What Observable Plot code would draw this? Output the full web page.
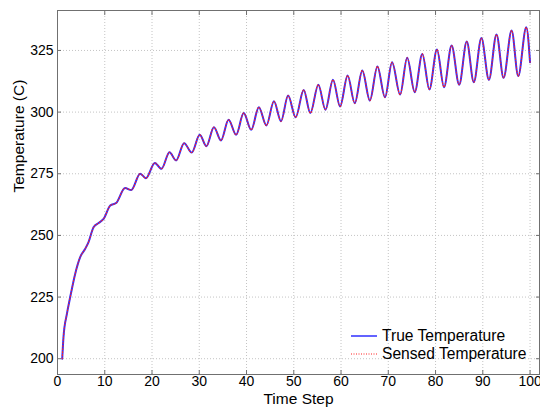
<!DOCTYPE html>
<html>
<head>
<meta charset="utf-8">
<script src="https://cdn.jsdelivr.net/npm/d3@7"></script>
<script src="https://cdn.jsdelivr.net/npm/@observablehq/plot@0.6"></script>
<style>
  html, body { margin: 0; padding: 0; background: #fff; }
  #wrap { position: relative; width: 540px; height: 412px; font-family: "Liberation Sans", Arial, Helvetica, sans-serif; }
  #legend { position: absolute; left: 350px; top: 327px; font-size: 15.6px; color: #000; }
  .row { display: flex; align-items: center; height: 18px; }
  .row svg { margin-right: 4px; }
</style>
</head>
<body>
<div id="wrap"></div>
<script>
// Values
const timeSteps = [1, 1.27, 1.99, 2.69, 3.75, 4.8, 5.87, 6.57, 7.63, 8.69,
  9.75, 11.17, 12.4, 14.3, 15.6, 17.5, 18.7, 20.6, 22.0, 23.7,
  25.1, 26.8, 28.4, 30.1, 31.5, 33.1, 34.6, 36.2, 37.8, 39.4,
  41.0, 42.6, 44.2, 45.8, 47.3, 48.8, 50.4, 52.1, 53.5, 55.2,
  56.7, 58.3, 59.8, 61.4, 62.9, 64.5, 66.1, 67.7, 69.3, 70.8,
  72.5, 74.0, 75.6, 77.2, 78.7, 80.3, 81.8, 83.4, 85.0, 86.6,
  88.1, 89.7, 91.3, 92.9, 94.4, 96.1, 97.5, 99.2, 100];
const trueTemperature = [200, 208.8, 218.2, 225, 234.5, 241.2, 244.6, 247.3, 253.3, 255,
  256.7, 262.1, 263.1, 269.2, 268.4, 275, 273.2, 279.4, 277, 283.7,
  280.4, 287.4, 283.6, 290.8, 286.2, 293.9, 288.5, 296.9, 290.8, 299.6,
  292.8, 302, 294.6, 304.4, 296.3, 306.7, 297.9, 309, 299.6, 311.1,
  301, 313.1, 302.3, 314.8, 303.6, 316.9, 304.7, 318.5, 306, 320.2,
  307.1, 322, 308.1, 323.6, 309.2, 325.4, 310.1, 327, 311.1, 328.6,
  312.1, 330, 313.1, 331.5, 313.9, 333.1, 314.6, 334.4, 320.2];
// Sensed values are visually indistinguishable from the true ones in the picture
const sensedTemperature = [200, 208.8, 218.2, 225, 234.5, 241.2, 244.6, 247.3, 253.3, 255,
  256.7, 262.1, 263.1, 269.2, 268.4, 275, 273.2, 279.4, 277, 283.7,
  280.4, 287.4, 283.6, 290.8, 286.2, 293.9, 288.5, 296.9, 290.8, 299.6,
  292.8, 302, 294.6, 304.4, 296.3, 306.7, 297.9, 309, 299.6, 311.1,
  301, 313.1, 302.3, 314.8, 303.6, 316.9, 304.7, 318.5, 306, 320.2,
  307.1, 322, 308.1, 323.6, 309.2, 325.4, 310.1, 327, 311.1, 328.6,
  312.1, 330, 313.1, 331.5, 313.9, 333.1, 314.6, 334.4, 320.2];
const xTicks = [0, 10, 20, 30, 40, 50, 60, 70, 80, 90, 100];
const yTicks = [200, 225, 250, 275, 300, 325];
const seriesNames = ["True Temperature", "Sensed Temperature"];
const xLabel = "Time Step";
const yLabel = "Temperature (C)";

const data = timeSteps.map((t, i) => ({t, trueT: trueTemperature[i], sensedT: sensedTemperature[i]}));
const font = '"Liberation Sans", Arial, Helvetica, sans-serif';
const axisColor = "#707070";

const chart = Plot.plot({
  width: 540,
  height: 412,
  marginLeft: 57,
  marginRight: 1,
  marginTop: 10,
  marginBottom: 38,
  style: {fontFamily: font, fontSize: "14px", color: "#000", background: "#fff"},
  x: {domain: [0, 102]},
  y: {domain: [193.6, 341.2]},
  marks: [
    Plot.gridX(xTicks, {stroke: "#c4c4c4", strokeOpacity: 1, strokeDasharray: "1,2"}),
    Plot.gridY(yTicks, {stroke: "#c4c4c4", strokeOpacity: 1, strokeDasharray: "1,2"}),
    Plot.line(data, {x: "t", y: "trueT", stroke: "#2f2fff", strokeWidth: 2, curve: "monotone-x"}),
    Plot.line(data, {x: "t", y: "sensedT", stroke: "#ff2020", strokeWidth: 1.1, strokeDasharray: "1,2", curve: "monotone-x"}),
    Plot.frame({stroke: axisColor}),
    Plot.axisX(xTicks, {anchor: "bottom", tickSize: -4, tickPadding: 6, stroke: axisColor, fill: "#000", label: null}),
    Plot.axisX(xTicks, {anchor: "top", tickSize: -4, tickFormat: () => "", stroke: axisColor, label: null}),
    Plot.axisY(yTicks, {anchor: "left", tickSize: -4, tickPadding: 8, stroke: axisColor, fill: "#000", label: null}),
    Plot.axisY(yTicks, {anchor: "right", tickSize: -4, tickFormat: () => "", stroke: axisColor, label: null}),
    Plot.text([xLabel], {frameAnchor: "bottom", dy: 29, fontSize: 15.5, fill: "#000"}),
    Plot.text([yLabel], {frameAnchor: "left", dx: -38, rotate: -90, fontSize: 15.5, fill: "#000"})
  ]
});

const wrap = document.getElementById("wrap");
wrap.appendChild(chart);

const legend = document.createElement("div");
legend.id = "legend";
legend.innerHTML = `
  <div class="row"><svg width="28" height="4"><line x1="1" x2="27" y1="2" y2="2" stroke="#2f2fff" stroke-width="1.5"/></svg><span>${seriesNames[0]}</span></div>
  <div class="row"><svg width="28" height="4"><line x1="1" x2="27" y1="2" y2="2" stroke="#ff2020" stroke-width="1.1" stroke-dasharray="1,1.5"/></svg><span>${seriesNames[1]}</span></div>`;
wrap.appendChild(legend);
</script>
</body>
</html>
